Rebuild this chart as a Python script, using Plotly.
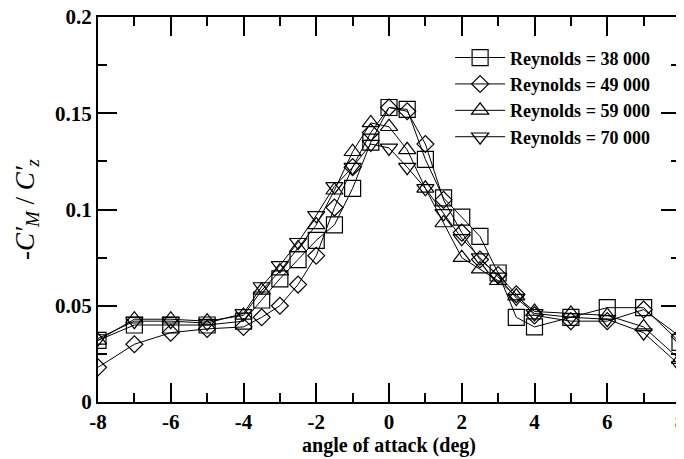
import plotly.graph_objects as go

# angles of attack (deg)
alpha = [-8, -7, -6, -5, -4, -3.5, -3, -2.5, -2, -1.5, -1, -0.5, 0,
         0.5, 1, 1.5, 2, 2.5, 3, 3.5, 4, 5, 6, 7, 8]

# -C'M / C'z for each Reynolds number
re_38000 = [0.032, 0.040, 0.040, 0.040, 0.042, 0.053, 0.064, 0.074, 0.084, 0.092, 0.111, 0.135, 0.153,
            0.152, 0.126, 0.106, 0.096, 0.086, 0.067, 0.044, 0.039, 0.044, 0.049, 0.049, 0.031]
re_49000 = [0.018, 0.030, 0.036, 0.038, 0.039, 0.044, 0.050, 0.061, 0.076, 0.101, 0.122, 0.140, 0.153,
            0.151, 0.134, 0.105, 0.088, 0.074, 0.066, 0.056, 0.045, 0.042, 0.042, 0.048, 0.034]
re_59000 = [0.032, 0.043, 0.043, 0.042, 0.045, 0.058, 0.068, 0.080, 0.092, 0.110, 0.130, 0.145, 0.143,
            0.131, 0.111, 0.093, 0.075, 0.069, 0.063, 0.055, 0.047, 0.046, 0.045, 0.039, 0.022]
re_70000 = [0.033, 0.042, 0.042, 0.041, 0.046, 0.060, 0.071, 0.083, 0.097, 0.112, 0.122, 0.134, 0.132,
            0.122, 0.111, 0.098, 0.085, 0.075, 0.065, 0.054, 0.046, 0.044, 0.043, 0.036, 0.019]

series = [
    ("Reynolds = 38 000", re_38000, "square-open", 16),
    ("Reynolds = 49 000", re_49000, "diamond-open", 13),
    ("Reynolds = 59 000", re_59000, "triangle-up-open", 15),
    ("Reynolds = 70 000", re_70000, "triangle-down-open", 15),
]

fig = go.Figure()
for nome, valores, simbolo, tam in series:
    fig.add_trace(go.Scatter(
        x=alpha, y=valores, name=nome, mode="lines+markers",
        line=dict(color="black", width=1),
        marker=dict(symbol=simbolo, size=tam, color="black",
                    line=dict(width=1.2, color="black")),
    ))

eixo = dict(
    showline=True, linecolor="black", linewidth=2, mirror="ticks",
    ticks="inside", ticklen=19, tickwidth=1.5, tickcolor="black",
    showgrid=False, zeroline=False, automargin=False,
    ticklabeloverflow="allow",
    tickfont=dict(size=21, family="Liberation Serif", color="black"),
)

fig.update_xaxes(
    range=[-8, 8], tickvals=[-8, -6, -4, -2, 0, 2, 4, 6, 8],
    ticktext=["<b>-8</b>", "<b>-6</b>", "<b>-4</b>", "<b>-2</b>", "<b>0</b>",
              "<b>2</b>", "<b>4</b>", "<b>6</b>", "<b>8</b>"],
    minor=dict(dtick=1, ticks="inside", ticklen=9, tickwidth=1.5, tickcolor="black"),
    title=dict(text="<b>angle of attack (deg)</b>",
               font=dict(size=20, family="Liberation Serif", color="#000000"), standoff=2),
    **eixo,
)
fig.update_yaxes(
    range=[0, 0.2], tickvals=[0, 0.05, 0.1, 0.15, 0.2],
    ticktext=["<b>0</b>", "<b>0.05</b>", "<b>0.1</b>", "<b>0.15</b>", "<b>0.2</b>"],
    minor=dict(dtick=0.025, ticks="inside", ticklen=9, tickwidth=1.5, tickcolor="black"),
    title=dict(text="-<i>C′<sub>M</sub></i> / <i>C′<sub>z</sub></i>",
               font=dict(size=27, family="Liberation Serif", color="#000000"), standoff=13),
    **eixo,
)

# a página coloca a figura com 8px de margem, então desconta aqui
fig.update_layout(
    width=676, height=451,
    margin=dict(l=90, r=4, t=9, b=57),
    paper_bgcolor="white", plot_bgcolor="white",
    showlegend=True,
    legend=dict(
        x=0.605, y=0.942, xanchor="left", yanchor="top",
        bgcolor="rgba(0,0,0,0)", borderwidth=0,
        font=dict(size=18, family="Liberation Serif", color="black", weight="bold"),
        itemwidth=50, tracegroupgap=0,
    ),
)

fig.write_html("out.html")
